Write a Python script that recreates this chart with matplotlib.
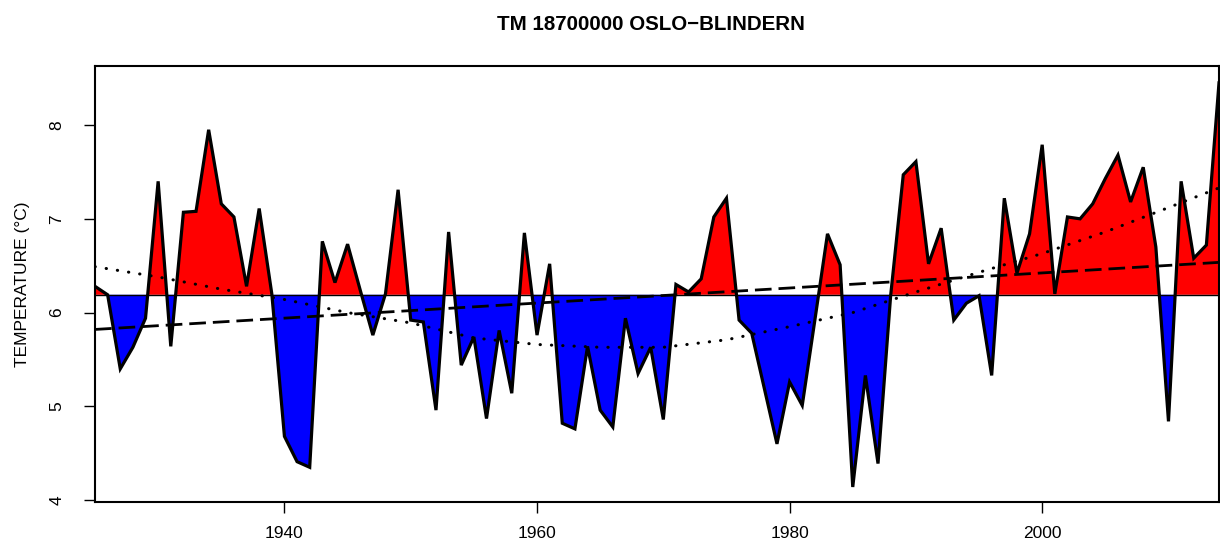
import numpy as np
import matplotlib.pyplot as plt

plt.rcParams['font.family'] = ['Liberation Sans', 'DejaVu Sans']

# Årsmiddeltemperatur, Oslo-Blindern
years = np.arange(1925, 2015)
temps = np.array([
    6.28, 6.19, 5.40, 5.63, 5.94, 7.40, 5.64, 7.07, 7.08, 7.95,
    7.16, 7.02, 6.28, 7.11, 6.20, 4.68, 4.41, 4.35, 6.76, 6.32,
    6.73, 6.24, 5.76, 6.20, 7.31, 5.92, 5.90, 4.96, 6.86, 5.44,
    5.74, 4.87, 5.81, 5.14, 6.85, 5.76, 6.52, 4.82, 4.76, 5.64,
    4.96, 4.78, 5.94, 5.35, 5.63, 4.86, 6.30, 6.22, 6.36, 7.02,
    7.22, 5.92, 5.78, 5.19, 4.60, 5.26, 5.01, 5.92, 6.84, 6.51,
    4.14, 5.33, 4.39, 6.18, 7.47, 7.61, 6.52, 6.90, 5.92, 6.10,
    6.18, 5.33, 7.22, 6.42, 6.84, 7.79, 6.20, 7.02, 7.00, 7.16,
    7.43, 7.68, 7.18, 7.55, 6.70, 4.84, 7.40, 6.58, 6.72, 8.45,
])
baseline = 6.19

# Glattet kurve (prikket)
smooth_years = [1925, 1930, 1935, 1940, 1945, 1950, 1955, 1960, 1965, 1970,
                1975, 1980, 1985, 1990, 1995, 2000, 2005, 2010, 2014]
smooth_temps = [6.49, 6.38, 6.25, 6.14, 6.00, 5.89, 5.73, 5.66, 5.63, 5.63,
                5.71, 5.85, 6.00, 6.22, 6.43, 6.63, 6.86, 7.12, 7.33]

title = 'TM 18700000 OSLO\u2212BLINDERN'
ylabel = 'TEMPERATURE (\u00b0C)'
xticks = [1940, 1960, 1980, 2000]
yticks = [4, 5, 6, 7, 8]

# Lineær trend
lin = np.polyval(np.polyfit(years, temps, 1), years)

fig = plt.figure(figsize=(12.2, 5.41), dpi=100)
ax = fig.add_axes([95 / 1220, 1 - 502 / 541, 1124 / 1220, 436 / 541])

ax.fill_between(years, temps, baseline, where=temps >= baseline,
                interpolate=True, color='#ff0000', lw=0)
ax.fill_between(years, temps, baseline, where=temps <= baseline,
                interpolate=True, color='#0000ff', lw=0)
ax.axhline(baseline, color='black', lw=1)
ax.plot(years, temps, color='black', lw=2.3, solid_joinstyle='miter')
ax.plot(years, lin, color='black', lw=2.0, linestyle=(0, (6, 2.5)))
ax.plot(smooth_years, smooth_temps, color='black', lw=2.2,
        linestyle=(0, (0.1, 3.6)), dash_capstyle='round')

ax.set_xlim(1925, 2014)
ax.set_ylim(3.98, 8.63)
ax.set_xticks(xticks)
ax.set_yticks(yticks)
ax.tick_params(axis='both', direction='out', length=8, width=1,
               labelsize=12.5)
ax.tick_params(axis='x', pad=9)
ax.tick_params(axis='y', pad=14)
for lab in ax.get_yticklabels():
    lab.set_rotation(90)
    lab.set_va('center')
for s in ax.spines.values():
    s.set_linewidth(1.5)

ax.set_ylabel(ylabel, fontsize=12.5, labelpad=14)
fig.text(651 / 1220, 1 - 24 / 541, title, ha='center', va='center',
         fontsize=14.8, fontweight='bold')

fig.savefig('out.png', dpi=100)
